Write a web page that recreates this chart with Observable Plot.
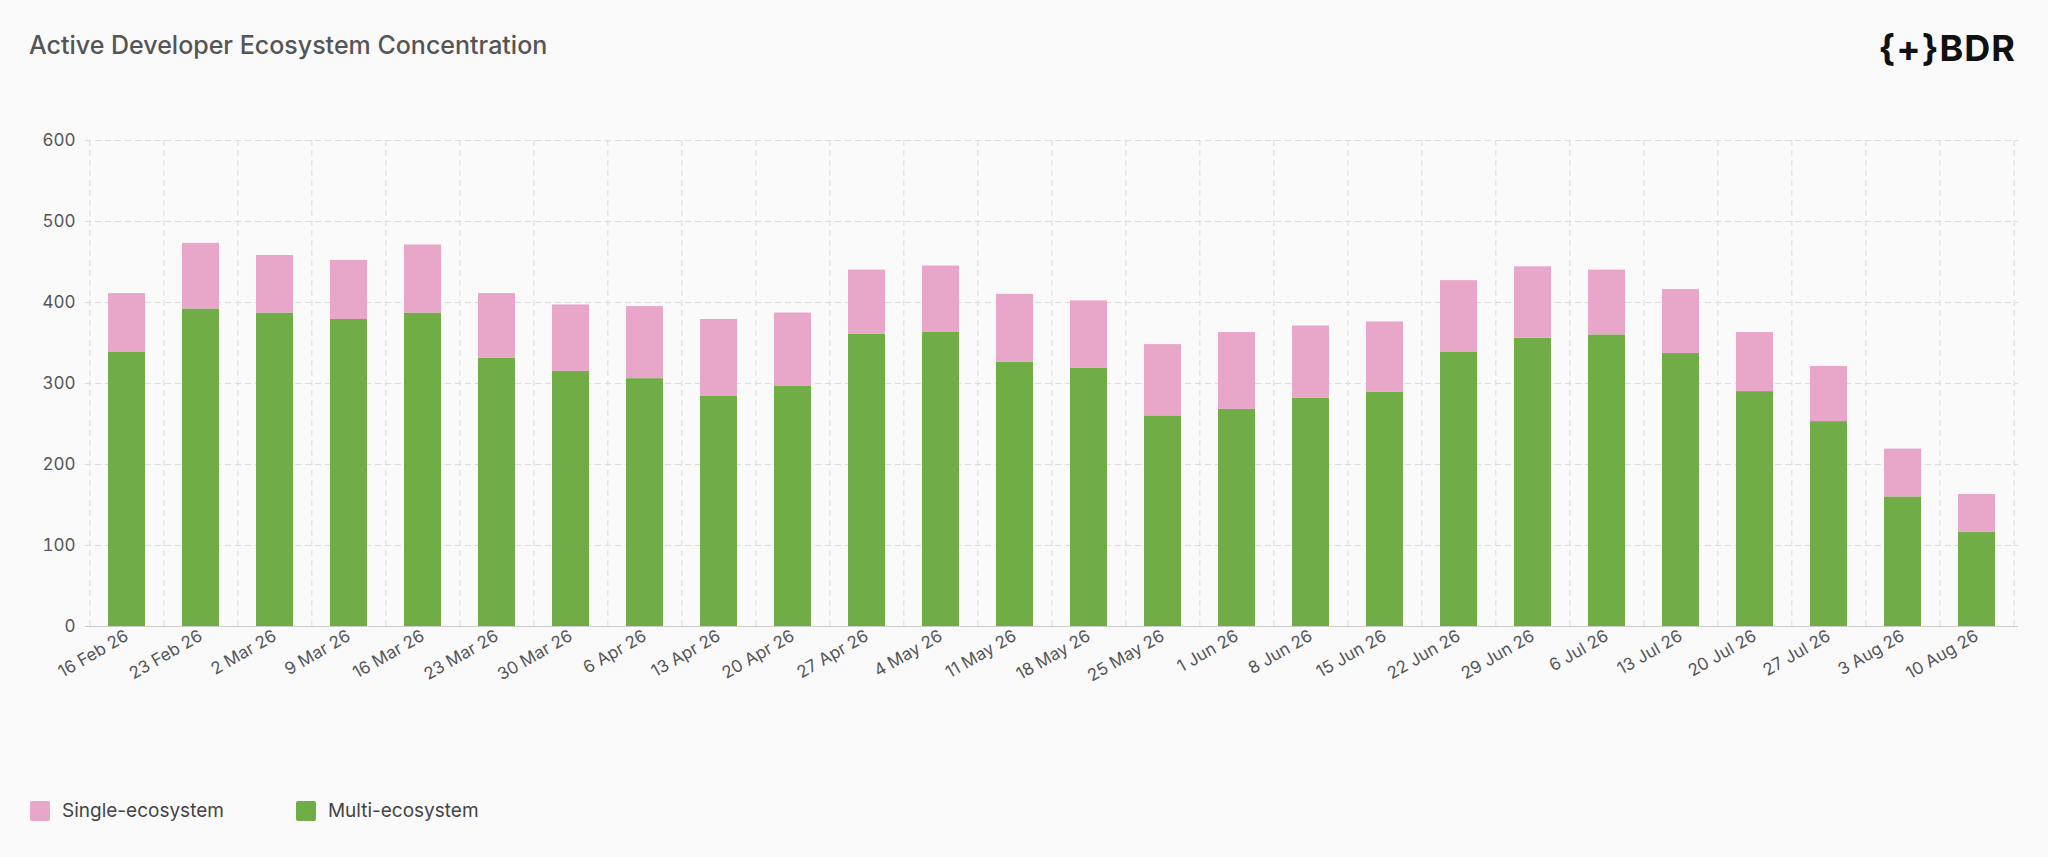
<!DOCTYPE html>
<html><head><meta charset="utf-8">
<script src="https://cdn.jsdelivr.net/npm/d3@7"></script>
<script src="https://cdn.jsdelivr.net/npm/@observablehq/plot@0.6"></script>
<style>
body{margin:0;background:#fafafa;font-family:Inter,sans-serif;width:2048px;height:857px;position:relative;overflow:hidden}
#title{position:absolute;left:29px;top:30px;font-size:25px;font-weight:500;color:#555}
#logo{position:absolute;right:32px;top:26px;font-size:36px;font-weight:700;color:#111;letter-spacing:1px}
#chart{position:absolute;left:0;top:0}
#legend{position:absolute;left:30px;top:799px;font-size:19px;color:#444;display:flex;gap:72px}
#legend span.sw{display:inline-block;width:20px;height:20px;vertical-align:-4px;margin-right:12px;border-radius:2px}
</style></head><body>
<div id="chart"></div>
<div id="title">Active Developer Ecosystem Concentration</div>
<div id="logo">{+}BDR</div>
<div id="legend"><div><span class="sw" style="background:#e8a6c9"></span>Single-ecosystem</div><div><span class="sw" style="background:#70ad47"></span>Multi-ecosystem</div></div>
<script>
const weeks = ["16 Feb 26","23 Feb 26","2 Mar 26","9 Mar 26","16 Mar 26","23 Mar 26","30 Mar 26","6 Apr 26","13 Apr 26","20 Apr 26","27 Apr 26","4 May 26","11 May 26","18 May 26","25 May 26","1 Jun 26","8 Jun 26","15 Jun 26","22 Jun 26","29 Jun 26","6 Jul 26","13 Jul 26","20 Jul 26","27 Jul 26","3 Aug 26","10 Aug 26"];
const multi = [339,392,387,379,387,331,315,306,284,297,361,363,326,319,260,268,282,289,339,356,360,337,290,253,160,116];
const total = [411,473,458,452,471,411,397,395,379,387,440,445,410,402,348,363,371,376,427,444,440,416,363,321,219,163];
const single = total.map((t,i)=>t-multi[i]);
const yTicks = [0,100,200,300,400,500,600];

const data = [];
weeks.forEach((w,i)=>{
  data.push({week:w, series:"Multi-ecosystem", value:multi[i]});
  data.push({week:w, series:"Single-ecosystem", value:single[i]});
});
const W=2048, H=760, ml=85, mr=30;
const step=(W-ml-mr)/weeks.length;
const chart = Plot.plot({
  width:W, height:H, marginTop:140, marginBottom:134, marginLeft:ml, marginRight:mr,
  style:{background:"transparent", fontFamily:"Inter, sans-serif", fontSize:"17px", color:"#555"},
  x:{domain:weeks, paddingInner:0.5, paddingOuter:0.25, label:null, tickRotate:-30, tickSize:0, tickPadding:8},
  y:{domain:[0,600], ticks:yTicks, label:null, tickSize:0, tickPadding:10},
  color:{domain:["Multi-ecosystem","Single-ecosystem"], range:["#70ad47","#e8a6c9"]},
  marks:[
    Plot.ruleY(yTicks.slice(1), {stroke:"#ddd", strokeDasharray:"6,4"}),
    Plot.ruleX(weeks, {x:d=>d, dx:-step/2, stroke:"#ddd", strokeDasharray:"6,4"}),
    Plot.ruleX(weeks.slice(-1), {x:d=>d, dx:step/2, stroke:"#ddd", strokeDasharray:"6,4"}),
    Plot.barY(data, {x:"week", y:"value", fill:"series", order:["Multi-ecosystem","Single-ecosystem"]}),
    Plot.ruleY([0], {stroke:"#ccc"})
  ]
});
document.getElementById("chart").append(chart);
</script>
</body></html>
